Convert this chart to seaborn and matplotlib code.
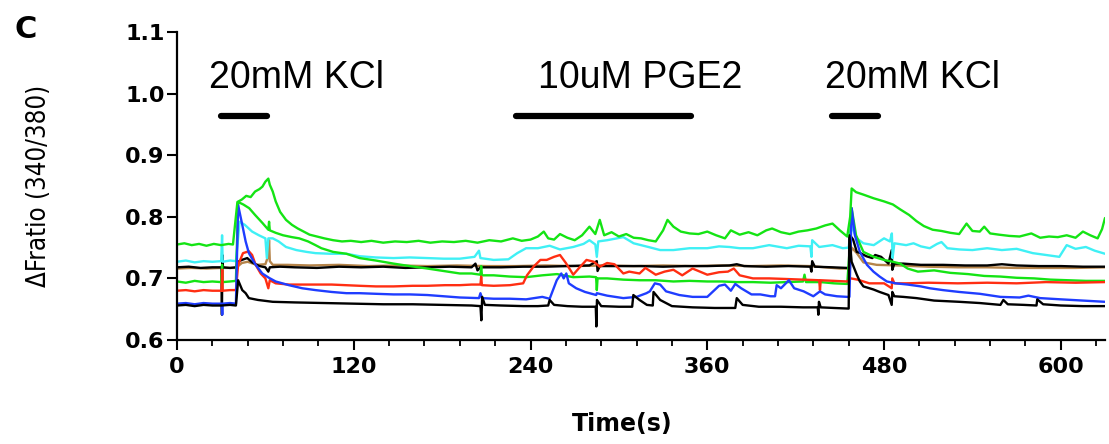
"""
plot.py
=======
Fura-2 ratio traces (340/380) during KCl / PGE2 application, redrawn with seaborn.
"""

import matplotlib
matplotlib.use("Agg")  # headless-safe backend
import matplotlib.pyplot as plt
from matplotlib import font_manager
from matplotlib.ticker import MultipleLocator, FormatStrFormatter
import pandas as pd
import seaborn as sns

# --------------------------------------------------------------------------
# Data
# --------------------------------------------------------------------------
green_hi_t = [0, 5, 10, 15, 20, 25, 30, 35, 38, 41, 44, 47, 50, 53, 56, 58, 60, 62, 63, 65,
              67, 70, 74, 78, 82, 86, 90, 95, 100, 106, 112, 118, 125, 132, 140, 148, 156, 164,
              172, 180, 188, 196, 204, 212, 220, 228, 234, 240, 245, 249, 252, 256, 260, 265,
              270, 275, 280, 284, 287, 290, 295, 300, 305, 310, 315, 320, 325, 330, 333, 337,
              342, 348, 354, 360, 366, 372, 376, 382, 388, 394, 400, 404, 410, 416, 422, 428,
              434, 440, 445, 450, 455, 457, 458, 461, 466, 473, 480, 486, 491, 497, 502, 507,
              513, 519, 525, 531, 536, 540, 545, 548, 552, 558, 565, 572, 580, 586, 592, 598,
              604, 610, 615, 620, 625, 628, 630]
green_hi_y = [0.755, 0.757, 0.754, 0.756, 0.753, 0.756, 0.754, 0.756, 0.755, 0.824, 0.828, 0.834,
              0.832, 0.841, 0.845, 0.849, 0.857, 0.862, 0.852, 0.841, 0.825, 0.808, 0.795, 0.787,
              0.781, 0.776, 0.771, 0.768, 0.765, 0.762, 0.760, 0.761, 0.759, 0.761, 0.758, 0.760,
              0.759, 0.761, 0.758, 0.760, 0.759, 0.761, 0.758, 0.762, 0.760, 0.765, 0.761, 0.763,
              0.768, 0.776, 0.765, 0.763, 0.772, 0.766, 0.762, 0.770, 0.784, 0.772, 0.795, 0.770,
              0.775, 0.768, 0.772, 0.766, 0.765, 0.762, 0.760, 0.778, 0.795, 0.784, 0.776, 0.773,
              0.772, 0.776, 0.770, 0.765, 0.778, 0.771, 0.775, 0.770, 0.778, 0.781, 0.775, 0.772,
              0.776, 0.778, 0.781, 0.786, 0.789, 0.778, 0.768, 0.800, 0.846, 0.840, 0.836, 0.830,
              0.825, 0.820, 0.812, 0.803, 0.793, 0.785, 0.779, 0.777, 0.774, 0.772, 0.789, 0.777,
              0.776, 0.784, 0.773, 0.771, 0.769, 0.768, 0.773, 0.766, 0.768, 0.767, 0.770, 0.766,
              0.776, 0.770, 0.765, 0.780, 0.798]

green_lo_t = [0, 6, 12, 18, 24, 30, 30.6, 31, 36, 40, 41.5, 45, 49, 53, 58, 62, 62.5, 63, 67, 72,
              78, 83, 89, 94, 98, 106, 115, 124, 135, 147, 158, 170, 181, 192, 200, 206, 206.5,
              207, 215, 226, 237, 248, 258, 269, 280, 284.5, 285, 285.5, 292, 303, 314, 325, 337,
              348, 360, 370, 380, 391, 403, 414, 425, 426, 427, 437, 446, 455, 457, 458, 461, 466,
              473, 480, 486, 491, 496, 503, 514, 525, 537, 548, 559, 570, 582, 593, 605, 617, 630]
green_lo_y = [0.695, 0.693, 0.696, 0.694, 0.695, 0.694, 0.722, 0.694, 0.695, 0.696, 0.824, 0.820,
              0.814, 0.803, 0.790, 0.779, 0.792, 0.778, 0.774, 0.770, 0.767, 0.765, 0.760, 0.754,
              0.749, 0.743, 0.740, 0.733, 0.729, 0.724, 0.720, 0.716, 0.712, 0.708, 0.708, 0.706,
              0.720, 0.705, 0.705, 0.703, 0.702, 0.705, 0.707, 0.702, 0.703, 0.702, 0.681, 0.700,
              0.700, 0.698, 0.697, 0.697, 0.695, 0.696, 0.695, 0.695, 0.694, 0.694, 0.693, 0.694,
              0.695, 0.706, 0.694, 0.694, 0.692, 0.691, 0.760, 0.814, 0.770, 0.743, 0.735, 0.730,
              0.727, 0.724, 0.716, 0.711, 0.713, 0.709, 0.707, 0.704, 0.703, 0.701, 0.700, 0.698,
              0.697, 0.696, 0.696]

cyan_t = [0, 6, 12, 18, 24, 30, 30.6, 31, 36, 40, 42.5, 46, 51, 55.6, 60, 61, 62, 65, 69, 74, 81,
          88, 94, 104, 115, 124, 135, 147, 158, 170, 181, 192, 202, 205, 206, 215, 225, 231, 237,
          245, 253, 260, 269, 276, 280, 284, 285, 286, 292, 303, 310, 320, 328, 337, 348, 360, 368,
          375, 382, 391, 402, 414, 422, 430, 430.7, 431.2, 436, 445, 452, 456, 457.5, 461.5, 466,
          473, 480, 484, 485.3, 485.8, 487, 495, 500, 505, 511, 516, 519, 523, 531, 540, 550, 560,
          570, 581, 590, 599, 604, 610, 617, 623, 630]
cyan_y = [0.727, 0.729, 0.726, 0.728, 0.727, 0.728, 0.770, 0.727, 0.729, 0.728, 0.792, 0.787,
          0.776, 0.770, 0.765, 0.733, 0.765, 0.765, 0.760, 0.751, 0.746, 0.743, 0.741, 0.740,
          0.740, 0.736, 0.734, 0.733, 0.734, 0.733, 0.732, 0.732, 0.735, 0.745, 0.733, 0.730,
          0.731, 0.741, 0.749, 0.749, 0.753, 0.747, 0.751, 0.756, 0.762, 0.755, 0.735, 0.760,
          0.762, 0.767, 0.757, 0.751, 0.746, 0.746, 0.749, 0.749, 0.752, 0.751, 0.749, 0.749,
          0.754, 0.749, 0.753, 0.752, 0.735, 0.762, 0.751, 0.754, 0.749, 0.750, 0.787, 0.765,
          0.757, 0.754, 0.765, 0.760, 0.773, 0.733, 0.757, 0.754, 0.757, 0.752, 0.749, 0.756,
          0.759, 0.749, 0.747, 0.746, 0.749, 0.746, 0.748, 0.741, 0.738, 0.735, 0.754, 0.748,
          0.751, 0.745, 0.740]

black_hi_t = [0, 8, 16, 24, 30.2, 30.5, 30.8, 31.2, 36, 40, 41.5, 44, 47.7, 51, 56, 60, 62, 63,
              70, 80, 95, 110, 125, 140, 155, 170, 185, 200, 202.6, 204, 206, 220, 235, 250, 265,
              280, 285, 285.5, 287, 300, 315, 330, 345, 360, 375, 380, 385, 400, 415, 430, 430.7,
              431.2, 433, 445, 455, 456.8, 457.5, 459, 461.5, 464, 468, 472, 474, 478, 483, 485.2,
              485.6, 487, 493, 505, 520, 535, 550, 560, 570, 585, 600, 615, 630]
black_hi_y = [0.718, 0.719, 0.717, 0.718, 0.718, 0.641, 0.738, 0.718, 0.717, 0.718, 0.727, 0.730,
              0.733, 0.726, 0.720, 0.718, 0.711, 0.718, 0.719, 0.718, 0.717, 0.719, 0.718, 0.719,
              0.717, 0.718, 0.719, 0.718, 0.724, 0.713, 0.718, 0.718, 0.719, 0.719, 0.720, 0.721,
              0.728, 0.712, 0.720, 0.720, 0.720, 0.719, 0.720, 0.720, 0.721, 0.723, 0.720, 0.719,
              0.720, 0.719, 0.711, 0.728, 0.719, 0.718, 0.717, 0.716, 0.768, 0.763, 0.743, 0.741,
              0.736, 0.733, 0.738, 0.735, 0.724, 0.746, 0.714, 0.724, 0.724, 0.722, 0.722, 0.721,
              0.721, 0.723, 0.721, 0.720, 0.720, 0.719, 0.719]

brown_t = [0, 10, 20, 30, 40, 44, 48, 54, 60, 62, 62.5, 63, 65, 75, 90, 110, 130, 150, 170, 190,
           210, 230, 250, 270, 290, 310, 330, 350, 370, 390, 410, 430, 450, 456, 458, 461.5, 466,
           475, 490, 510, 530, 550, 570, 590, 610, 630]
brown_y = [0.716, 0.717, 0.716, 0.717, 0.717, 0.725, 0.727, 0.722, 0.723, 0.737, 0.762, 0.728,
           0.722, 0.722, 0.721, 0.722, 0.720, 0.721, 0.720, 0.721, 0.720, 0.720, 0.721, 0.720,
           0.721, 0.720, 0.721, 0.720, 0.721, 0.720, 0.721, 0.720, 0.716, 0.716, 0.750, 0.741,
           0.726, 0.722, 0.721, 0.719, 0.718, 0.718, 0.717, 0.717, 0.717, 0.718]

red_t = [0, 6, 12, 18, 24, 30.3, 30.7, 31, 36, 40, 41.5, 44.8, 48.8, 51, 53.4, 56.8, 60, 62, 63,
         67, 76, 90, 105, 124, 135, 147, 160, 170, 182, 192, 200, 206, 206.5, 207, 215, 226, 235,
         237.6, 242, 246.7, 251, 256, 260, 264, 269, 273, 278, 283, 287, 292, 297, 303, 307, 314,
         318, 325, 331, 337, 343, 350, 360, 368, 374, 378, 382, 391, 402, 414, 425, 436, 436.5,
         437, 446, 455, 457.5, 462, 470, 480, 485.2, 485.6, 487, 495, 510, 530, 550, 570, 590,
         610, 630]
red_y = [0.680, 0.681, 0.679, 0.681, 0.680, 0.680, 0.714, 0.680, 0.681, 0.681, 0.722, 0.741,
         0.744, 0.738, 0.722, 0.708, 0.700, 0.684, 0.697, 0.692, 0.690, 0.690, 0.690, 0.688,
         0.687, 0.687, 0.688, 0.688, 0.689, 0.689, 0.690, 0.690, 0.703, 0.689, 0.688, 0.689,
         0.692, 0.705, 0.719, 0.730, 0.730, 0.735, 0.738, 0.725, 0.706, 0.717, 0.730, 0.727,
         0.719, 0.725, 0.723, 0.708, 0.711, 0.708, 0.717, 0.706, 0.711, 0.714, 0.705, 0.716,
         0.706, 0.710, 0.711, 0.716, 0.705, 0.700, 0.700, 0.699, 0.698, 0.697, 0.681, 0.697,
         0.696, 0.695, 0.700, 0.698, 0.692, 0.692, 0.684, 0.700, 0.692, 0.692, 0.693, 0.692,
         0.693, 0.692, 0.694, 0.693, 0.694]

blue_t = [0, 6, 12, 18, 24, 30.3, 30.7, 31, 36, 40, 41.5, 44.3, 46.6, 48.8, 53.4, 57.9, 62.4, 67,
          76, 85, 94, 105, 115, 124, 135, 147, 158, 170, 181, 192, 205, 206, 207, 215, 226, 237,
          248, 253, 257.8, 260.9, 262.5, 264.3, 266, 271, 277, 284.6, 285, 292, 303, 312, 318.7,
          321, 324.4, 328, 332, 341, 350, 360, 364, 368, 372, 376, 379, 383, 390, 396, 403, 406,
          407.1, 410, 415.4, 419, 425.4, 432, 436.5, 440, 448, 455, 456.5, 458, 460.2, 463.6,
          468.4, 472.8, 477, 481.9, 488, 496, 505, 511, 520, 531, 545, 559, 572, 578, 586, 600,
          615, 630]
blue_y = [0.659, 0.660, 0.658, 0.660, 0.659, 0.659, 0.641, 0.659, 0.660, 0.659, 0.819, 0.787,
          0.760, 0.741, 0.722, 0.708, 0.701, 0.695, 0.689, 0.684, 0.681, 0.678, 0.676, 0.676,
          0.675, 0.674, 0.674, 0.673, 0.671, 0.669, 0.668, 0.676, 0.668, 0.667, 0.667, 0.666,
          0.670, 0.667, 0.697, 0.708, 0.700, 0.708, 0.692, 0.684, 0.678, 0.673, 0.676, 0.672,
          0.668, 0.670, 0.676, 0.679, 0.692, 0.690, 0.679, 0.673, 0.670, 0.670, 0.679, 0.688,
          0.690, 0.680, 0.691, 0.684, 0.674, 0.674, 0.671, 0.671, 0.689, 0.684, 0.697, 0.684,
          0.679, 0.671, 0.679, 0.674, 0.671, 0.670, 0.670, 0.814, 0.770, 0.743, 0.722, 0.711,
          0.703, 0.695, 0.692, 0.690, 0.687, 0.684, 0.681, 0.678, 0.675, 0.670, 0.669, 0.672,
          0.668, 0.666, 0.664, 0.662]

black_lo_t = [0, 6, 12, 18, 24, 30, 36, 40, 41.5, 44.3, 46.6, 48.8, 55, 65, 80, 100, 120, 140,
              160, 180, 200, 206, 206.6, 207.2, 209, 220, 235, 245, 252, 253, 256, 265, 275, 284.3,
              284.7, 285.1, 288, 300, 309, 309.8, 314, 319, 323, 323.5, 328, 336, 350, 365, 379,
              380, 384, 395, 410, 425, 435, 435.4, 435.8, 437, 446, 456, 456.4, 458, 461.5, 463.6,
              466, 472.8, 477, 483, 485.2, 485.6, 487, 493, 502, 514, 531, 545, 559, 561, 564, 575,
              583.5, 584, 588, 600, 615, 630]
black_lo_y = [0.656, 0.657, 0.655, 0.657, 0.656, 0.656, 0.657, 0.656, 0.697, 0.681, 0.676, 0.668,
              0.665, 0.662, 0.661, 0.660, 0.659, 0.658, 0.658, 0.657, 0.656, 0.655, 0.632, 0.670,
              0.657, 0.656, 0.655, 0.655, 0.656, 0.665, 0.657, 0.655, 0.654, 0.654, 0.622, 0.665,
              0.655, 0.654, 0.654, 0.673, 0.665, 0.657, 0.656, 0.678, 0.665, 0.655, 0.653, 0.652,
              0.652, 0.668, 0.657, 0.654, 0.654, 0.653, 0.653, 0.641, 0.662, 0.653, 0.652, 0.651,
              0.770, 0.727, 0.706, 0.695, 0.687, 0.682, 0.678, 0.673, 0.657, 0.678, 0.671, 0.670,
              0.668, 0.664, 0.662, 0.660, 0.657, 0.665, 0.658, 0.657, 0.656, 0.666, 0.658, 0.656,
              0.655, 0.655]

# stimulus bars: label, start, end (s)
stim_labels = ["20mM KCl", "10uM PGE2", "20mM KCl"]
stim_start = [30, 230, 445]
stim_end = [61, 349, 476]

# --------------------------------------------------------------------------
# Styling
# --------------------------------------------------------------------------
traces = [  # draw order: later ones on top
    ("brown", brown_t, brown_y, "#b5844a"),
    ("black_hi", black_hi_t, black_hi_y, "#000000"),
    ("cyan", cyan_t, cyan_y, "#3ff0f5"),
    ("green_lo", green_lo_t, green_lo_y, "#14e414"),
    ("red", red_t, red_y, "#ff2e12"),
    ("blue", blue_t, blue_y, "#1f3dff"),
    ("black_lo", black_lo_t, black_lo_y, "#000000"),
    ("green_hi", green_hi_t, green_hi_y, "#14e414"),
]
label_x = [22, 245, 440]   # left edge of the stimulus captions (s)
bar_y, label_y = 0.963, 1.009

sns.set_theme(style="ticks")
names = {f.name for f in font_manager.fontManager.ttflist}
narrow = "Liberation Sans Narrow" if "Liberation Sans Narrow" in names else None
plt.rcParams["font.family"] = ["DejaVu Sans"]
plt.rcParams["text.color"] = "black"

frames = [pd.DataFrame({"t": t, "ratio": y, "trace": name}) for name, t, y, _ in traces]
df = pd.concat(frames, ignore_index=True)
palette = {name: c for name, _, _, c in traces}

fig = plt.figure(figsize=(11.09, 4.44), dpi=100)
ax = fig.add_axes([177 / 1109, 1 - 340 / 444, 928 / 1109, 308 / 444])

sns.lineplot(data=df, x="t", y="ratio", hue="trace", hue_order=[n for n, *_ in traces],
             palette=palette, estimator=None, sort=False, legend=False,
             linewidth=1.7, ax=ax)

# stimulus bars + captions
for lab, x0, x1, lx in zip(stim_labels, stim_start, stim_end, label_x):
    ax.plot([x0, x1], [bar_y, bar_y], color="black", lw=4.5, solid_capstyle="round",
            clip_on=False)
    ax.text(lx, label_y, lab, ha="left", va="baseline", fontsize=27,
            family="Liberation Sans", color="black")

ax.set_xlim(0, 630)
ax.set_ylim(0.6, 1.1)
ax.xaxis.set_major_locator(MultipleLocator(120))
ax.xaxis.set_minor_locator(MultipleLocator(24))
ax.yaxis.set_major_locator(MultipleLocator(0.1))
ax.yaxis.set_major_formatter(FormatStrFormatter("%.1f"))
sns.despine(ax=ax)
for sp in ("left", "bottom"):
    ax.spines[sp].set_linewidth(1.6)
    ax.spines[sp].set_color("black")
ax.tick_params(axis="both", which="major", length=7, width=1.5, color="black",
               labelsize=16, labelcolor="black")
ax.tick_params(axis="x", which="major", pad=5)
ax.tick_params(axis="y", which="major", pad=2)
ax.tick_params(axis="x", which="minor", length=4.5, width=1.3, color="black")
for lbl in ax.get_xticklabels() + ax.get_yticklabels():
    lbl.set_fontweight("bold")

ax.set_xlabel("Time(s)", fontsize=17, fontweight="bold", color="black")
ax.xaxis.set_label_coords(0.48, -0.235)
if narrow:
    ax.set_ylabel("\u0394Fratio (340/380)", fontsize=22, family=[narrow, "DejaVu Sans"],
                  color="black")
else:
    ax.set_ylabel("\u0394Fratio (340/380)", fontsize=18.5, fontstretch="condensed",
                  color="black")
ax.yaxis.set_label_coords(-0.135, 0.5)

fig.text(15 / 1109, 1 - 38 / 444, "C", fontsize=22, fontweight="bold", va="baseline",
         color="black")

fig.savefig("out.png", dpi=100)
plt.close(fig)
